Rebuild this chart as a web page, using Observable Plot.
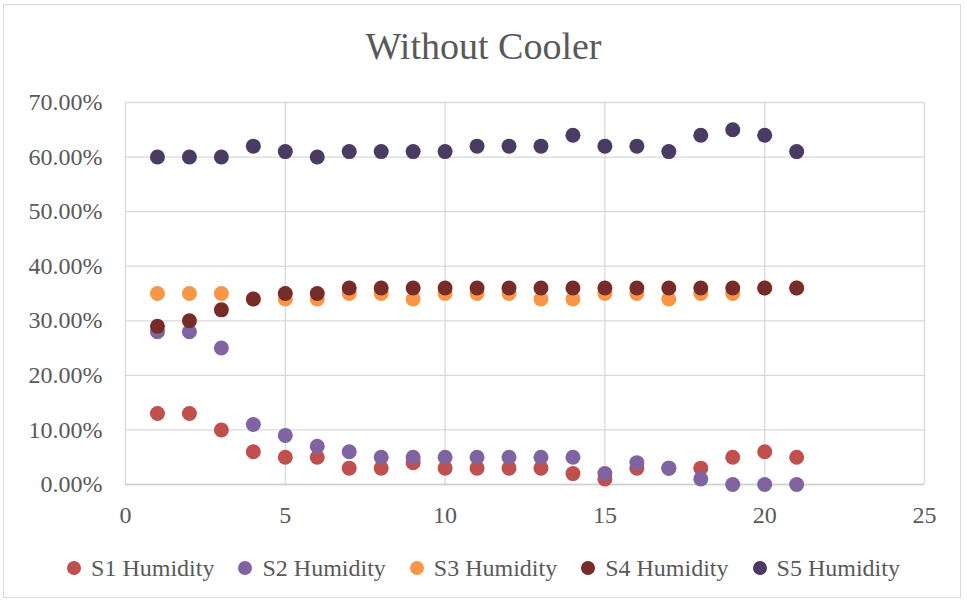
<!DOCTYPE html>
<html>
<head>
<meta charset="utf-8">
<script src="https://cdn.jsdelivr.net/npm/d3@7"></script>
<script src="https://cdn.jsdelivr.net/npm/@observablehq/plot@0.6"></script>
<style>
  html, body { margin: 0; padding: 0; background: #fff; }
  body { width: 967px; height: 605px; position: relative; overflow: hidden; font-family: "Liberation Serif", "DejaVu Serif", serif; }
  #frame { position: absolute; left: 3px; top: 4px; width: 958px; height: 594px; border: 1px solid #d9d9d9; box-sizing: border-box; }
  #title { position: absolute; left: 0; width: 967px; top: 22px; text-align: center; font-size: 38px; color: #595959; line-height: 48px; }
  #chart { position: absolute; left: 0; top: 80px; }
  #legend { position: absolute; left: 0; width: 967px; top: 552px; display: flex; justify-content: center; gap: 24px; font-size: 24px; color: #595959; line-height: 32px; }
  .item { display: flex; align-items: center; gap: 10px; }
  .sw { width: 14px; height: 14px; border-radius: 50%; display: inline-block; }
</style>
</head>
<body>
<div id="frame"></div>
<div id="title">Without Cooler</div>
<div id="chart"></div>
<div id="legend"></div>
<script>
const xValues = [1,2,3,4,5,6,7,8,9,10,11,12,13,14,15,16,17,18,19,20,21];
const seriesNames = ["S1 Humidity", "S2 Humidity", "S3 Humidity", "S4 Humidity", "S5 Humidity"];
const seriesColors = ["#c0504d", "#8064a2", "#f79646", "#772c2a", "#4a3b63"];
const s1 = [0.13,0.13,0.10,0.06,0.05,0.05,0.03,0.03,0.04,0.03,0.03,0.03,0.03,0.02,0.01,0.03,0.03,0.03,0.05,0.06,0.05];
const s2 = [0.28,0.28,0.25,0.11,0.09,0.07,0.06,0.05,0.05,0.05,0.05,0.05,0.05,0.05,0.02,0.04,0.03,0.01,0.00,0.00,0.00];
const s3 = [0.35,0.35,0.35,0.34,0.34,0.34,0.35,0.35,0.34,0.35,0.35,0.35,0.34,0.34,0.35,0.35,0.34,0.35,0.35,0.36,0.36];
const s4 = [0.29,0.30,0.32,0.34,0.35,0.35,0.36,0.36,0.36,0.36,0.36,0.36,0.36,0.36,0.36,0.36,0.36,0.36,0.36,0.36,0.36];
const s5 = [0.60,0.60,0.60,0.62,0.61,0.60,0.61,0.61,0.61,0.61,0.62,0.62,0.62,0.64,0.62,0.62,0.61,0.64,0.65,0.64,0.61];
const xTicks = [0,5,10,15,20,25];
const yTicks = [0,0.1,0.2,0.3,0.4,0.5,0.6,0.7];

const allSeries = [s1, s2, s3, s4, s5];
const data = [];
allSeries.forEach((vals, i) => {
  vals.forEach((v, j) => data.push({series: seriesNames[i], x: xValues[j], y: v}));
});

const chart = Plot.plot({
  width: 967,
  height: 460,
  marginLeft: 125,
  marginRight: 43,
  marginTop: 22,
  marginBottom: 56,
  style: { fontFamily: "'Liberation Serif', serif", fontSize: "24px", color: "#595959", background: "transparent" },
  x: { domain: [0, 25], ticks: xTicks, label: null, tickSize: 0, tickPadding: 21 },
  y: { domain: [0, 0.7], ticks: yTicks, tickFormat: d3.format(".2%"), label: null, tickSize: 0, tickPadding: 23 },
  color: { domain: seriesNames, range: seriesColors },
  marks: [
    Plot.gridX(xTicks, { stroke: "#d9d9d9", strokeOpacity: 1, strokeWidth: 1.3 }),
    Plot.gridY(yTicks, { stroke: "#d9d9d9", strokeOpacity: 1, strokeWidth: 1.3 }),
    Plot.ruleY([0], { stroke: "#cfcfcf", strokeWidth: 1.5 }),
    Plot.axisX({ ticks: xTicks, tickSize: 0, tickPadding: 21, fontSize: 24, fill: "#595959" }),
    Plot.axisY({ ticks: yTicks, tickFormat: d3.format(".2%"), tickSize: 0, tickPadding: 23, fontSize: 24, fill: "#595959" }),
    Plot.dot(data, { x: "x", y: "y", fill: "series", r: 7.5, stroke: "none" })
  ]
});
document.getElementById("chart").appendChild(chart);

const legend = document.getElementById("legend");
seriesNames.forEach((name, i) => {
  const item = document.createElement("div");
  item.className = "item";
  const sw = document.createElement("span");
  sw.className = "sw";
  sw.style.background = seriesColors[i];
  const t = document.createElement("span");
  t.textContent = name;
  item.appendChild(sw);
  item.appendChild(t);
  legend.appendChild(item);
});
</script>
</body>
</html>
